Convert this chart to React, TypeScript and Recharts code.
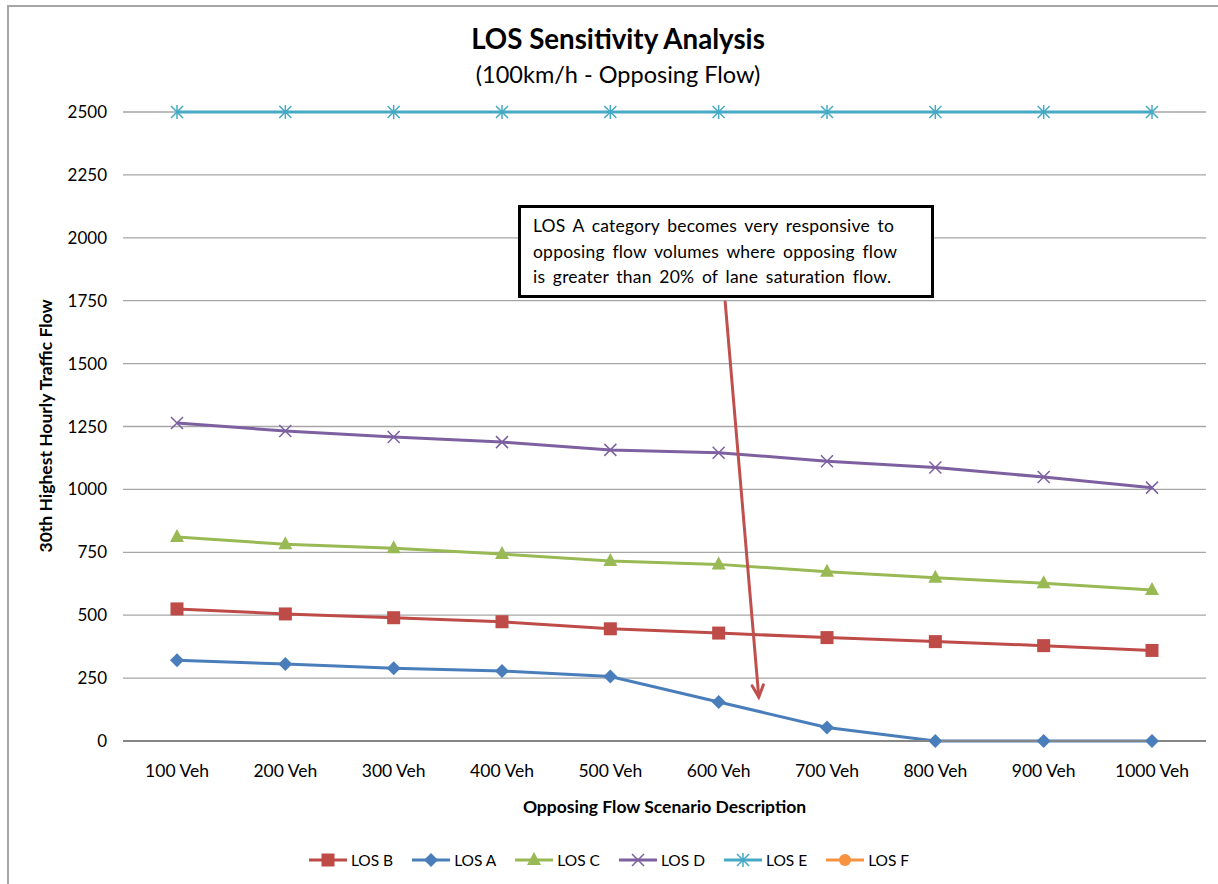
import React from "react";
import {
  LineChart,
  Line,
  XAxis,
  YAxis,
  CartesianGrid,
  ReferenceLine,
} from "recharts";

const categories = [
  "100 Veh",
  "200 Veh",
  "300 Veh",
  "400 Veh",
  "500 Veh",
  "600 Veh",
  "700 Veh",
  "800 Veh",
  "900 Veh",
  "1000 Veh",
];

const losA = [321, 306, 289, 278, 256, 155, 54, 0, 0, 0];
const losB = [525, 505, 490, 474, 446, 429, 411, 395, 379, 360];
const losC = [811, 782, 766, 743, 715, 702, 673, 649, 627, 600];
const losD = [1264, 1232, 1208, 1188, 1157, 1146, 1112, 1087, 1049, 1007];
const losE = [2500, 2500, 2500, 2500, 2500, 2500, 2500, 2500, 2500, 2500];
const losF: (number | null)[] = [];

const yTicks = [0, 250, 500, 750, 1000, 1250, 1500, 1750, 2000, 2250, 2500];

// annotation arrow, in data units (x = category index, 0 = "100 Veh"; y = flow)
const arrowFrom = { x: 5.06, y: 1745 };
const arrowTo = { x: 5.37, y: 175 };

const noteLines = [
  "LOS A category becomes very responsive to",
  "opposing flow volumes where opposing flow",
  "is greater than 20% of lane saturation flow.",
];

const FONT = "Lato, 'Open Sans', sans-serif";

const data = categories.map((name, i) => ({
  name,
  idx: i,
  A: losA[i],
  B: losB[i],
  C: losC[i],
  D: losD[i],
  E: losE[i],
  F: losF[i] ?? null,
}));

type MarkerKind = "square" | "diamond" | "triangle" | "x" | "star" | "circle";

const series: { key: string; name: string; color: string; marker: MarkerKind }[] = [
  { key: "B", name: "LOS B", color: "#BE4B48", marker: "square" },
  { key: "A", name: "LOS A", color: "#4A7EBB", marker: "diamond" },
  { key: "C", name: "LOS C", color: "#98B954", marker: "triangle" },
  { key: "D", name: "LOS D", color: "#7D60A0", marker: "x" },
  { key: "E", name: "LOS E", color: "#46AAC5", marker: "star" },
  { key: "F", name: "LOS F", color: "#F69240", marker: "circle" },
];

function Marker({ kind, cx, cy, color }: { kind: MarkerKind; cx: number; cy: number; color: string }) {
  if (cx == null || cy == null || isNaN(cx) || isNaN(cy)) return null;
  switch (kind) {
    case "square":
      return <rect x={cx - 6.5} y={cy - 6.5} width={13} height={13} fill={color} />;
    case "diamond":
      return (
        <polygon
          points={`${cx},${cy - 7} ${cx + 7},${cy} ${cx},${cy + 7} ${cx - 7},${cy}`}
          fill={color}
        />
      );
    case "triangle":
      return (
        <polygon
          points={`${cx},${cy - 8} ${cx + 7},${cy + 5} ${cx - 7},${cy + 5}`}
          fill={color}
        />
      );
    case "x":
      return (
        <path
          d={`M${cx - 6},${cy - 6}L${cx + 6},${cy + 6}M${cx - 6},${cy + 6}L${cx + 6},${cy - 6}`}
          stroke={color}
          strokeWidth={1.5}
          fill="none"
        />
      );
    case "star":
      return (
        <path
          d={`M${cx - 6},${cy - 6}L${cx + 6},${cy + 6}M${cx - 6},${cy + 6}L${cx + 6},${cy - 6}M${cx},${cy - 7}L${cx},${cy + 7}`}
          stroke={color}
          strokeWidth={1.5}
          fill="none"
        />
      );
    default:
      return <circle cx={cx} cy={cy} r={6} fill={color} />;
  }
}

function ArrowShape(props: any) {
  const { x1, y1, x2, y2 } = props;
  if ([x1, y1, x2, y2].some((v) => v == null || isNaN(v))) return null;
  const ang = Math.atan2(y2 - y1, x2 - x1);
  const len = 13;
  const spread = 0.45;
  const ax = x2 - len * Math.cos(ang - spread);
  const ay = y2 - len * Math.sin(ang - spread);
  const bx = x2 - len * Math.cos(ang + spread);
  const by = y2 - len * Math.sin(ang + spread);
  return (
    <g stroke="#C0504D" strokeWidth={3} fill="none" strokeLinecap="round">
      <line x1={x1} y1={y1} x2={x2} y2={y2} />
      <path d={`M${ax},${ay}L${x2},${y2}L${bx},${by}`} strokeLinejoin="miter" />
    </g>
  );
}

function LegendRow() {
  return (
    <div
      style={{
        position: "absolute",
        top: 848,
        left: 0,
        width: 1218,
        display: "flex",
        justifyContent: "center",
        gap: 19,
        fontFamily: FONT,
        fontSize: 15.5,
        color: "#000",
      }}
    >
      {series.map((s) => (
        <div key={s.key} style={{ display: "flex", alignItems: "center", gap: 4 }}>
          <svg width={38} height={24}>
            <line x1={0} y1={12} x2={38} y2={12} stroke={s.color} strokeWidth={3} />
            <Marker kind={s.marker} cx={19} cy={12} color={s.color} />
          </svg>
          <span>{s.name}</span>
        </div>
      ))}
    </div>
  );
}

export default function App() {
  return (
    <div
      style={{
        position: "absolute",
        left: 0,
        top: 0,
        width: 1218,
        height: 884,
        background: "#fff",
        overflow: "hidden",
        fontFamily: FONT,
      }}
    >
      <div
        style={{
          position: "absolute",
          left: 7,
          top: 5,
          width: 1260,
          height: 920,
          borderLeft: "2px solid #A6A6A6",
          borderTop: "2px solid #A6A6A6",
        }}
      />
      <div
        style={{
          position: "absolute",
          top: 22,
          left: 0,
          width: 1236,
          textAlign: "center",
          fontSize: 27.7,
          fontWeight: 700,
          lineHeight: "34px",
        }}
      >
        LOS Sensitivity Analysis
      </div>
      <div
        style={{
          position: "absolute",
          top: 59,
          left: 0,
          width: 1236,
          textAlign: "center",
          fontSize: 23.5,
          lineHeight: "30px",
        }}
      >
        (100km/h - Opposing Flow)
      </div>
      <div
        style={{
          position: "absolute",
          left: 45,
          top: 426,
          transform: "translate(-50%, -50%) rotate(-90deg)",
          whiteSpace: "nowrap",
          fontSize: 17.5,
          fontWeight: 700,
        }}
      >
        30th Highest Hourly Traffic Flow
      </div>
      <div
        style={{
          position: "absolute",
          top: 796,
          left: 123,
          width: 1083,
          textAlign: "center",
          fontSize: 17.5,
          fontWeight: 700,
        }}
      >
        Opposing Flow Scenario Description
      </div>
      <div style={{ position: "absolute", left: 0, top: 0 }}>
        <LineChart
          width={1218}
          height={884}
          data={data}
          margin={{ top: 112, right: 12, bottom: 113, left: 43 }}
        >
          <CartesianGrid vertical={false} stroke="#A6A6A6" strokeWidth={1.3} />
          <XAxis
            dataKey="name"
            padding={{ left: 54, right: 54 }}
            height={30}
            tickLine={false}
            axisLine={{ stroke: "#868686", strokeWidth: 2 }}
            tickMargin={18}
            tick={{ fontSize: 17.5, fill: "#000", fontFamily: FONT }}
            interval={0}
          />
          <XAxis
            xAxisId="n"
            dataKey="idx"
            type="number"
            domain={[0, 9]}
            padding={{ left: 54, right: 54 }}
            allowDataOverflow
            hide
          />
          <YAxis
            domain={[0, 2500]}
            ticks={yTicks}
            width={80}
            axisLine={false}
            tickLine={false}
            tickMargin={10}
            tick={{ fontSize: 17, fill: "#000", fontFamily: FONT }}
            interval={0}
          />
          {series.map((s) => (
            <Line
              key={s.key}
              dataKey={s.key}
              name={s.name}
              stroke={s.color}
              strokeWidth={3}
              type="linear"
              isAnimationActive={false}
              connectNulls={false}
              dot={(p: any) => (
                <Marker key={`${s.key}-${p.index}`} kind={s.marker} cx={p.cx} cy={p.cy} color={s.color} />
              )}
              activeDot={false}
            />
          ))}
          <ReferenceLine
            xAxisId="n"
            segment={[arrowFrom, arrowTo]}
            ifOverflow="visible"
            shape={ArrowShape}
          />
        </LineChart>
      </div>
      <div
        style={{
          position: "absolute",
          left: 518,
          top: 205,
          width: 398,
          height: 82,
          border: "3px solid #000",
          background: "#fff",
          padding: "5px 0 0 12px",
          boxSizing: "content-box",
          fontSize: 17.5,
          wordSpacing: 3,
          letterSpacing: 0.2,
          lineHeight: "25.5px",
          color: "#000",
          whiteSpace: "nowrap",
        }}
      >
        {noteLines.map((l) => (
          <div key={l}>{l}</div>
        ))}
      </div>
      <LegendRow />
    </div>
  );
}
